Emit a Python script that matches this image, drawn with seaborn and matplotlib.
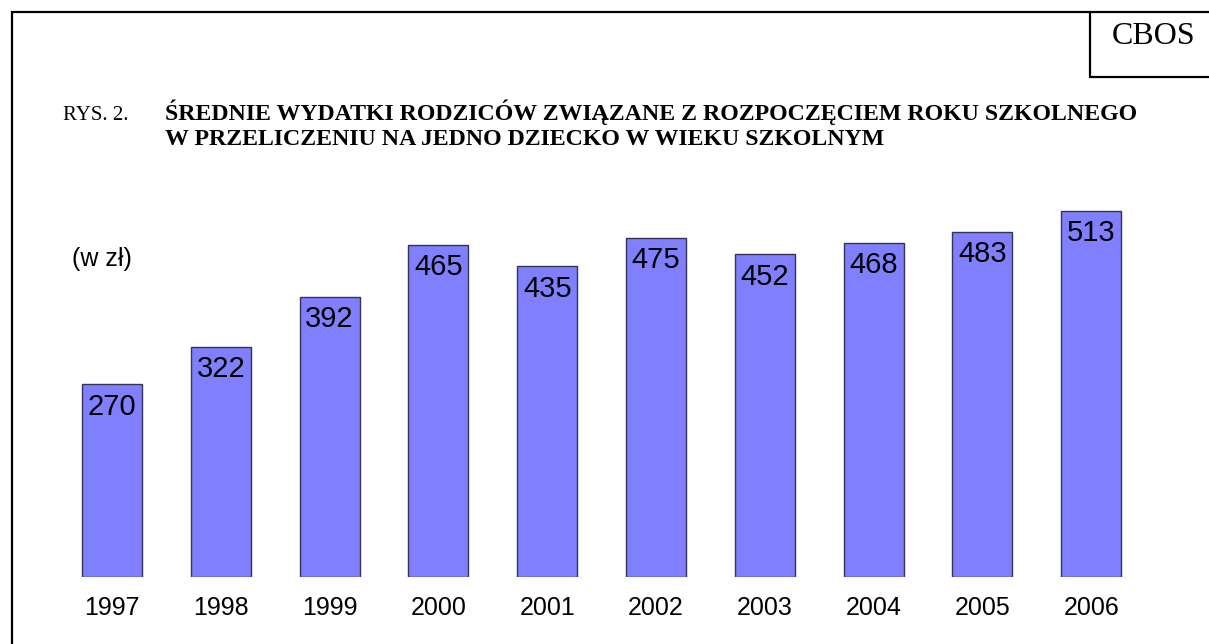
import matplotlib
matplotlib.use("Agg")
import matplotlib.pyplot as plt
import pandas as pd
import seaborn as sns
from matplotlib.lines import Line2D
from matplotlib.patches import Rectangle

# data
years = ["1997", "1998", "1999", "2000", "2001", "2002", "2003", "2004", "2005", "2006"]
spending = [270, 322, 392, 465, 435, 475, 452, 468, 483, 513]

label_main = "RYS. 2."
title_lines = ["ŚREDNIE WYDATKI RODZICÓW ZWIĄZANE Z ROZPOCZĘCIEM ROKU SZKOLNEGO",
               "W PRZELICZENIU NA JEDNO DZIECKO W WIEKU SZKOLNYM"]
unit_text = "(w zł)"
source_text = "CBOS"

W, H = 1209, 644


def fx(px):
    return px / W


def fy(py):
    return 1 - py / H


sns.set_style("white")
plt.rcParams["font.family"] = ["Liberation Sans", "DejaVu Sans"]
plt.rcParams["text.color"] = "black"
plt.rcParams["xtick.color"] = "black"

frame = pd.DataFrame({"year": years, "value": spending})

fig = plt.figure(figsize=(W / 100, H / 100), dpi=100)
ax = fig.add_axes([fx(57.6), 67 / H, 1088 / W, 385.6 / H])

sns.barplot(data=frame, x="year", y="value", color="#8080FF", saturation=1,
            edgecolor="#333355", linewidth=1.0, width=0.55, ax=ax)

for i, v in enumerate(frame["value"]):
    ax.annotate(str(v), (i, v), xytext=(0, -6), textcoords="offset points",
                ha="center", va="top", fontsize=21, color="black")

ax.set_xlim(-0.5, 9.5)
ax.set_ylim(0, 540)
ax.set_xlabel("")
ax.set_ylabel("")
ax.set_yticks([])
ax.tick_params(axis="x", length=0, pad=14, labelsize=18, labelcolor="black")
for s in ax.spines.values():
    s.set_visible(False)

# outer frame and source box
fig.patches.append(Rectangle((fx(12), fy(700)), 1300 / W, 688 / H, transform=fig.transFigure,
                             fill=False, edgecolor="black", linewidth=1.6))
fig.lines.append(Line2D([fx(1090), fx(1090)], [fy(12), fy(77)], transform=fig.transFigure,
                        color="black", linewidth=1.6))
fig.lines.append(Line2D([fx(1090), fx(1215)], [fy(77), fy(77)], transform=fig.transFigure,
                        color="black", linewidth=1.6))
fig.text(fx(1154), fy(37), source_text, ha="center", va="center", fontsize=23,
         family="Liberation Serif", color="black")

# title
fig.text(fx(63), fy(120), label_main, ha="left", va="baseline", fontsize=15,
         family="Liberation Serif", color="black")
fig.text(fx(165), fy(120), title_lines[0], ha="left", va="baseline", fontsize=17.2,
         family="Liberation Serif", fontweight="bold", color="black")
fig.text(fx(165), fy(145), title_lines[1], ha="left", va="baseline", fontsize=17.2,
         family="Liberation Serif", fontweight="bold", color="black")

fig.text(fx(72), fy(259), unit_text, ha="left", va="center", fontsize=18, color="black")

plt.savefig("out.png", dpi=100)
